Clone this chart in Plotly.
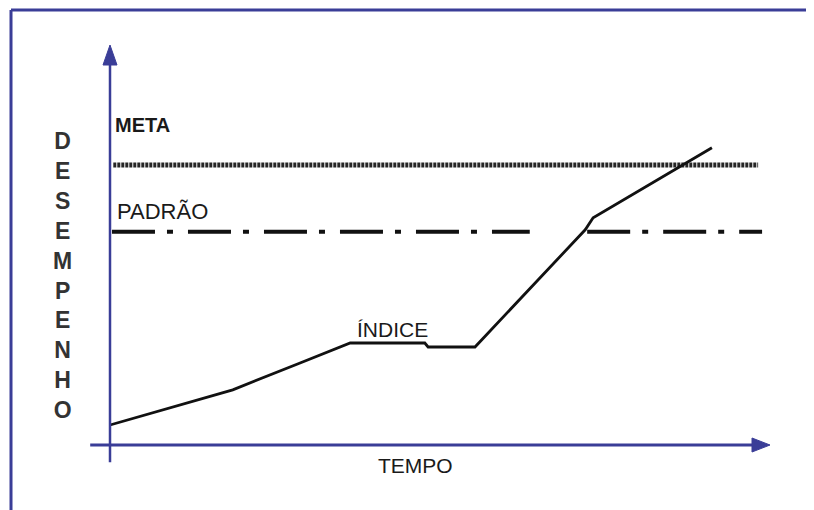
import plotly.graph_objects as go

# ---- data (tempo / desempenho units) ----
tempo_indice = [0, 1.86, 2.88, 3.64, 4.77, 4.82, 5.53, 7.2, 7.32, 9.12]
desempenho_indice = [0.5, 1.38, 2.05, 2.55, 2.55, 2.45, 2.45, 5.38, 5.68, 7.43]

meta_valor = 7.0
meta_tempo = [0.05, 9.82]

padrao_valor = 5.33
padrao_tempo = [0.03, 6.36, None, 7.23, 9.88]

rotulo_meta = "META"
rotulo_padrao = "PADRÃO"
rotulo_indice = "ÍNDICE"
rotulo_x = "TEMPO"
rotulo_y = "DESEMPENHO"

# ---- layout constants ----
PAGE_OFFSET = 8               # default body margin of the html page
W, H = 814 - PAGE_OFFSET, 510 - PAGE_OFFSET
PX_X0, PX_PER_X = 110 - PAGE_OFFSET, 66.0   # pixel of tempo=0, pixels per unit
PX_Y0, PX_PER_Y = 445 - PAGE_OFFSET, 40.0   # pixel of desempenho=0, pixels per unit
X_RANGE = [-PX_X0 / PX_PER_X, (W - PX_X0) / PX_PER_X]
Y_RANGE = [-(H - PX_Y0) / PX_PER_Y, PX_Y0 / PX_PER_Y]

BLUE = "#3a3d97"
FONT = "Liberation Sans Narrow, Arial Narrow, Liberation Sans, sans-serif"

fig = go.Figure()

fig.add_trace(go.Scatter(
    x=meta_tempo, y=[meta_valor] * len(meta_tempo), mode="lines",
    line=dict(color="#262626", width=5, dash="3px,1px"), hoverinfo="skip"))

fig.add_trace(go.Scatter(
    x=padrao_tempo, y=[None if t is None else padrao_valor for t in padrao_tempo],
    mode="lines", line=dict(color="#111111", width=4, dash="43px,12px,6px,15px"),
    hoverinfo="skip"))

fig.add_trace(go.Scatter(
    x=tempo_indice, y=desempenho_indice, mode="lines",
    line=dict(color="#111111", width=2.8), hoverinfo="skip"))

# ---- axes drawn as arrows ----
x_axis_start, x_axis_tip = -0.3, 10.0
y_axis_start, y_axis_tip = -0.43, 10.0
head_len_px, head_half_px = 18, 7

fy = 1 - (10 - PAGE_OFFSET) / H
fx = (11 - PAGE_OFFSET) / W
shapes = [
    # frame
    dict(type="line", xref="paper", yref="paper", x0=fx, x1=1, y0=fy, y1=fy,
         line=dict(color=BLUE, width=3)),
    dict(type="line", xref="paper", yref="paper", x0=fx, x1=fx, y0=0, y1=fy,
         line=dict(color=BLUE, width=3)),
    # x axis
    dict(type="line", xref="x", yref="y", x0=x_axis_start, x1=x_axis_tip - head_len_px / PX_PER_X,
         y0=0, y1=0, line=dict(color=BLUE, width=3)),
    # y axis
    dict(type="line", xref="x", yref="y", x0=0, x1=0, y0=y_axis_start,
         y1=y_axis_tip - head_len_px / PX_PER_Y, line=dict(color=BLUE, width=2.5)),
]
hx = head_len_px / PX_PER_X
hy = head_half_px / PX_PER_Y
shapes.append(dict(
    type="path", xref="x", yref="y",
    path=f"M{x_axis_tip},0 L{x_axis_tip - hx},{hy} L{x_axis_tip - hx},{-hy} Z",
    fillcolor=BLUE, line=dict(color=BLUE, width=1)))
vx = head_half_px / PX_PER_X
vy = (head_len_px + 2) / PX_PER_Y
shapes.append(dict(
    type="path", xref="x", yref="y",
    path=f"M0,{y_axis_tip} L{-vx},{y_axis_tip - vy} L{vx},{y_axis_tip - vy} Z",
    fillcolor=BLUE, line=dict(color=BLUE, width=1)))

annotations = [
    dict(x=0.045, y=8.0, text=f"<b>{rotulo_meta}</b>", xanchor="left", yanchor="middle",
         font=dict(family=FONT, size=20, color="#1a1a1a")),
    dict(x=0.076, y=5.85, text=rotulo_padrao, xanchor="left", yanchor="middle",
         font=dict(family=FONT, size=22, color="#1a1a1a")),
    dict(x=3.71, y=2.9, text=rotulo_indice, xanchor="left", yanchor="middle",
         font=dict(family=FONT, size=21, color="#1a1a1a")),
    dict(x=4.03, y=-0.5, text=rotulo_x, xanchor="left", yanchor="middle",
         font=dict(family=FONT, size=21, color="#1a1a1a")),
    dict(x=-0.727, y=4.25, text="<b>" + "<br>".join(list(rotulo_y)) + "</b>",
         xanchor="center", yanchor="middle",
         font=dict(family=FONT, size=23, color="#333333")),
]
for a in annotations:
    a.update(xref="x", yref="y", showarrow=False)

fig.update_layout(
    width=W, height=H, margin=dict(l=0, r=0, t=0, b=0),
    paper_bgcolor="white", plot_bgcolor="white", showlegend=False,
    xaxis=dict(range=X_RANGE, visible=False, fixedrange=True),
    yaxis=dict(range=Y_RANGE, visible=False, fixedrange=True),
    shapes=shapes, annotations=annotations,
)

fig.write_html("out.html", config={"displayModeBar": False})
